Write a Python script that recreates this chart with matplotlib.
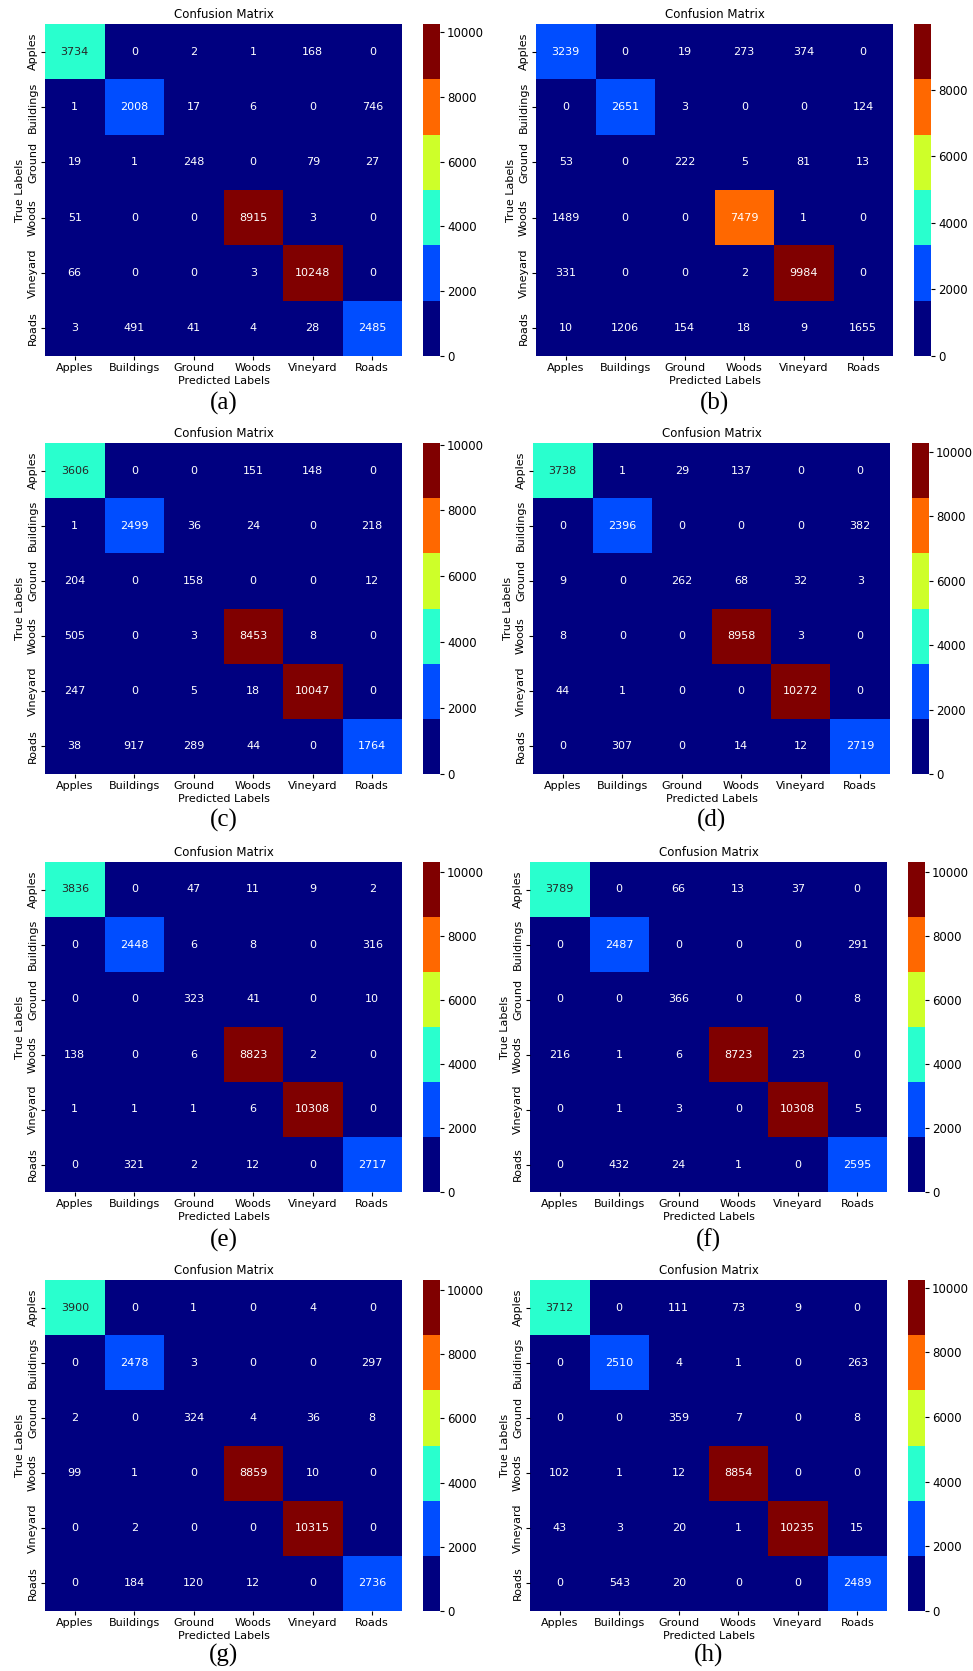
import numpy as np
import matplotlib
matplotlib.use("Agg")
import matplotlib.pyplot as plt
import seaborn as sns

labels = ["Apples", "Buildings", "Ground", "Woods", "Vineyard", "Roads"]

cm_a = [[3734, 0, 2, 1, 168, 0],
        [1, 2008, 17, 6, 0, 746],
        [19, 1, 248, 0, 79, 27],
        [51, 0, 0, 8915, 3, 0],
        [66, 0, 0, 3, 10248, 0],
        [3, 491, 41, 4, 28, 2485]]

cm_b = [[3239, 0, 19, 273, 374, 0],
        [0, 2651, 3, 0, 0, 124],
        [53, 0, 222, 5, 81, 13],
        [1489, 0, 0, 7479, 1, 0],
        [331, 0, 0, 2, 9984, 0],
        [10, 1206, 154, 18, 9, 1655]]

cm_c = [[3606, 0, 0, 151, 148, 0],
        [1, 2499, 36, 24, 0, 218],
        [204, 0, 158, 0, 0, 12],
        [505, 0, 3, 8453, 8, 0],
        [247, 0, 5, 18, 10047, 0],
        [38, 917, 289, 44, 0, 1764]]

cm_d = [[3738, 1, 29, 137, 0, 0],
        [0, 2396, 0, 0, 0, 382],
        [9, 0, 262, 68, 32, 3],
        [8, 0, 0, 8958, 3, 0],
        [44, 1, 0, 0, 10272, 0],
        [0, 307, 0, 14, 12, 2719]]

cm_e = [[3836, 0, 47, 11, 9, 2],
        [0, 2448, 6, 8, 0, 316],
        [0, 0, 323, 41, 0, 10],
        [138, 0, 6, 8823, 2, 0],
        [1, 1, 1, 6, 10308, 0],
        [0, 321, 2, 12, 0, 2717]]

cm_f = [[3789, 0, 66, 13, 37, 0],
        [0, 2487, 0, 0, 0, 291],
        [0, 0, 366, 0, 0, 8],
        [216, 1, 6, 8723, 23, 0],
        [0, 1, 3, 0, 10308, 5],
        [0, 432, 24, 1, 0, 2595]]

cm_g = [[3900, 0, 1, 0, 4, 0],
        [0, 2478, 3, 0, 0, 297],
        [2, 0, 324, 4, 36, 8],
        [99, 1, 0, 8859, 10, 0],
        [0, 2, 0, 0, 10315, 0],
        [0, 184, 120, 12, 0, 2736]]

cm_h = [[3712, 0, 111, 73, 9, 0],
        [0, 2510, 4, 1, 0, 263],
        [0, 0, 359, 7, 0, 8],
        [102, 1, 12, 8854, 0, 0],
        [43, 3, 20, 1, 10235, 15],
        [0, 543, 20, 0, 0, 2489]]

matrices = [cm_a, cm_b, cm_c, cm_d, cm_e, cm_f, cm_g, cm_h]
captions = ["(a)", "(b)", "(c)", "(d)", "(e)", "(f)", "(g)", "(h)"]

W, H = 973, 1671
fig = plt.figure(figsize=(W / 100, H / 100), dpi=100)

# pixel layout: heatmap left edge, colorbar left edge per panel; row tops/bottoms
hm_x = [45, 536, 45, 533, 45, 530, 45, 530]
cb_x = [423, 914, 423, 912, 423, 908, 423, 908]
rows = [(24, 356), (443, 774), (862, 1192), (1280, 1611)]
cap_y = [403, 820, 1240, 1655]
hm_w, cb_w = 357, 17

cmap = plt.get_cmap("jet", 6)

def box(x, top, w, h):
    return [x / W, 1 - (top + h) / H, w / W, h / H]

for i, cm in enumerate(matrices):
    r = i // 2
    top, bot = rows[r]
    ax = fig.add_axes(box(hm_x[i], top, hm_w, bot - top))
    cax = fig.add_axes(box(cb_x[i], top, cb_w, bot - top))
    sns.heatmap(np.array(cm), annot=True, fmt="d", cmap=cmap, ax=ax, cbar_ax=cax,
                xticklabels=labels, yticklabels=labels, annot_kws={"size": 8})
    ax.set_yticklabels(labels, rotation=90, va="center")
    ax.set_xticklabels(labels, rotation=0)
    ax.set_title("Confusion Matrix", fontsize=8.5, pad=4)
    ax.set_xlabel("Predicted Labels", fontsize=8, labelpad=2)
    ax.set_ylabel("True Labels", fontsize=8, labelpad=2)
    ax.tick_params(labelsize=8, length=3, pad=2)
    cax.tick_params(labelsize=8.5, length=3, pad=2)
    cx = hm_x[i] + hm_w / 2
    fig.text(cx / W, 1 - cap_y[r] / H, captions[i], ha="center", va="center",
             fontsize=18, family="Liberation Serif")

fig.savefig("out.png", dpi=100)
